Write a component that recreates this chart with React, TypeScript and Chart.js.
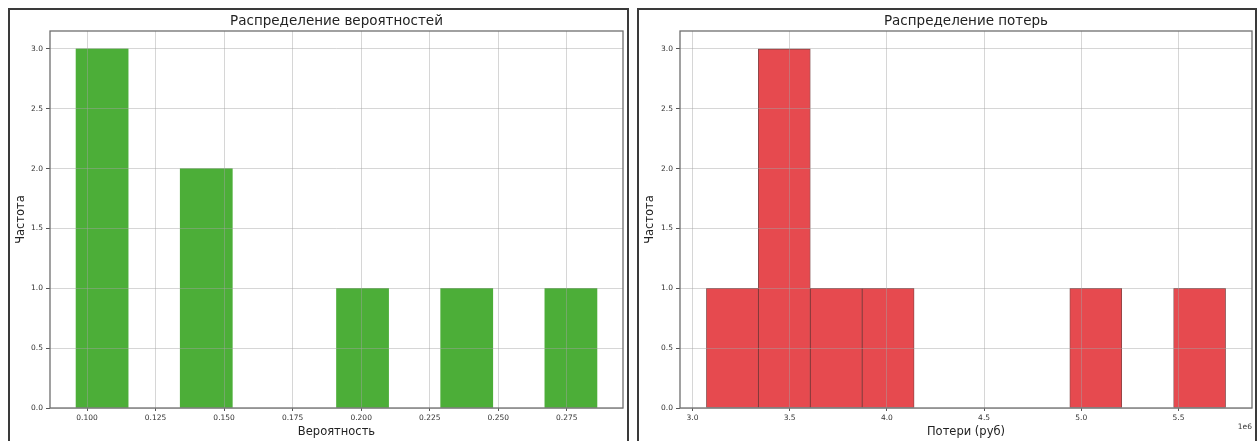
import React, { useEffect, useRef } from "react";
import { Chart, registerables } from "chart.js";

Chart.register(...registerables);

const FONT = "'DejaVu Sans', 'Liberation Sans', sans-serif";

// ---- Left chart: probability histogram ----
const probTitle = "Распределение вероятностей";
const probXLabel = "Вероятность";
const probBinEdges = [0.096, 0.115, 0.134, 0.153, 0.172, 0.191, 0.21, 0.229, 0.248, 0.267, 0.286];
const probCounts = [3, 0, 2, 0, 0, 1, 0, 1, 0, 1];
const probXTicks = [0.1, 0.125, 0.15, 0.175, 0.2, 0.225, 0.25, 0.275];
const probXRange = [0.0865, 0.2955];

// ---- Right chart: loss histogram ----
const lossTitle = "Распределение потерь";
const lossXLabel = "Потери (руб)";
const lossBinEdges = [3.072e6, 3.339e6, 3.606e6, 3.873e6, 4.14e6, 4.407e6, 4.674e6, 4.941e6, 5.208e6, 5.475e6, 5.742e6];
const lossCounts = [1, 3, 1, 1, 0, 0, 0, 1, 0, 1];
const lossXTicks = [3.0e6, 3.5e6, 4.0e6, 4.5e6, 5.0e6, 5.5e6];
const lossXRange = [2.936e6, 5.878e6];

// ---- Shared y axis ----
const yLabel = "Частота";
const yTicks = [0, 0.5, 1.0, 1.5, 2.0, 2.5, 3.0];
const yMax = 3.15;

const framePlugin = {
  id: "frame",
  afterDraw(chart: any, _args: any, opts: any) {
    const { ctx, chartArea: a } = chart;
    ctx.save();
    ctx.strokeStyle = "#6f6f6f";
    ctx.lineWidth = 1.3;
    ctx.strokeRect(a.left, a.top, a.right - a.left, a.bottom - a.top);
    if (opts && opts.offsetText) {
      ctx.fillStyle = "#333";
      ctx.font = `7.5px ${FONT}`;
      ctx.textAlign = "right";
      ctx.textBaseline = "middle";
      ctx.fillText(opts.offsetText, a.right, a.bottom + 19.5);
    }
    ctx.restore();
  },
};

type HistProps = {
  width: number;
  height: number;
  title: string;
  xLabel: string;
  edges: number[];
  counts: number[];
  xTicks: number[];
  xRange: number[];
  fmt: (v: number) => string;
  color: string;
  edgeColor: string;
  edgeWidth: number;
  yAxisWidth: number;
  rightPad: number;
  offsetText?: string;
};

function Hist(p: HistProps) {
  const ref = useRef<HTMLCanvasElement | null>(null);
  useEffect(() => {
    if (!ref.current) return;
    const data = p.counts.map((c, i) => ({
      x: (p.edges[i] + p.edges[i + 1]) / 2,
      y: c === 0 ? null : c,
    }));
    const gridColor = "rgba(165,165,165,0.45)";
    const chart = new Chart(ref.current, {
      type: "bar",
      data: {
        datasets: [
          {
            data: data as any,
            backgroundColor: p.color,
            borderColor: p.edgeColor,
            borderWidth: p.edgeWidth,
            borderSkipped: false,
            barPercentage: 1,
            categoryPercentage: 1,
          },
        ],
      },
      options: {
        animation: false,
        responsive: false,
        devicePixelRatio: 1,
        layout: { padding: { left: 0, right: p.rightPad, top: 0, bottom: 0 } },
        plugins: {
          legend: { display: false },
          tooltip: { enabled: false },
          title: {
            display: true,
            text: p.title,
            fullSize: false,
            color: "#222",
            font: { size: 13.5, family: FONT, weight: "normal" },
            padding: { top: 2.9, bottom: 1.9 },
          },
          frame: { offsetText: p.offsetText },
        } as any,
        scales: {
          x: {
            type: "linear",
            min: p.xRange[0],
            max: p.xRange[1],
            offset: false,
            afterBuildTicks: (s: any) => {
              s.ticks = p.xTicks.map((v) => ({ value: v }));
            },
            afterFit: (s: any) => {
              s.height = 33;
            },
            ticks: {
              callback: (v: any) => p.fmt(Number(v)),
              font: { size: 7.5, family: FONT },
              color: "#333",
              padding: 3,
              maxRotation: 0,
              autoSkip: false,
            },
            grid: { color: gridColor, lineWidth: 1, tickLength: 3, tickColor: "#555", z: 1, offset: false },
            border: { display: false },
            title: {
              display: true,
              text: p.xLabel,
              color: "#222",
              font: { size: 11.5, family: FONT },
              padding: { top: 0, bottom: 1.6 },
            },
          },
          y: {
            type: "linear",
            min: 0,
            max: yMax,
            afterBuildTicks: (s: any) => {
              s.ticks = yTicks.map((v) => ({ value: v }));
            },
            afterFit: (s: any) => {
              s.width = p.yAxisWidth;
            },
            ticks: {
              callback: (v: any) => Number(v).toFixed(1),
              font: { size: 7.5, family: FONT },
              color: "#333",
              padding: 3,
              autoSkip: false,
            },
            grid: { color: gridColor, lineWidth: 1, tickLength: 4, tickColor: "#555", z: 1 },
            border: { display: false },
            title: {
              display: true,
              text: yLabel,
              color: "#222",
              font: { size: 11.5, family: FONT },
              padding: { top: 4.1, bottom: 0 },
            },
          },
        },
      } as any,
      plugins: [framePlugin as any],
    });
    return () => chart.destroy();
  }, []);
  return <canvas ref={ref} width={p.width} height={p.height} style={{ display: "block" }} />;
}

export default function App() {
  const panel = (left: number, width: number): React.CSSProperties => ({
    position: "absolute",
    left,
    top: 8,
    width,
    height: 433,
    boxSizing: "border-box",
    border: "2px solid #3a3a3a",
    borderBottom: "none",
    background: "#fff",
    overflow: "hidden",
  });
  return (
    <div>
      <style>{"html,body{overflow:hidden;background:#fff}"}</style>
      <div style={panel(8, 621)}>
        <Hist
          width={617}
          height={431}
          title={probTitle}
          xLabel={probXLabel}
          edges={probBinEdges}
          counts={probCounts}
          xTicks={probXTicks}
          xRange={probXRange}
          fmt={(v) => v.toFixed(3)}
          color="#4cae38"
          edgeColor="#4cae38"
          edgeWidth={0}
          yAxisWidth={40}
          rightPad={4}
        />
      </div>
      <div style={panel(637, 620)}>
        <Hist
          width={616}
          height={431}
          title={lossTitle}
          xLabel={lossXLabel}
          edges={lossBinEdges}
          counts={lossCounts}
          xTicks={lossXTicks}
          xRange={lossXRange}
          fmt={(v) => (v / 1e6).toFixed(1)}
          color="#e64a4f"
          edgeColor="rgba(90,20,20,0.8)"
          edgeWidth={0.8}
          yAxisWidth={41}
          rightPad={3}
          offsetText="1e6"
        />
      </div>
    </div>
  );
}
